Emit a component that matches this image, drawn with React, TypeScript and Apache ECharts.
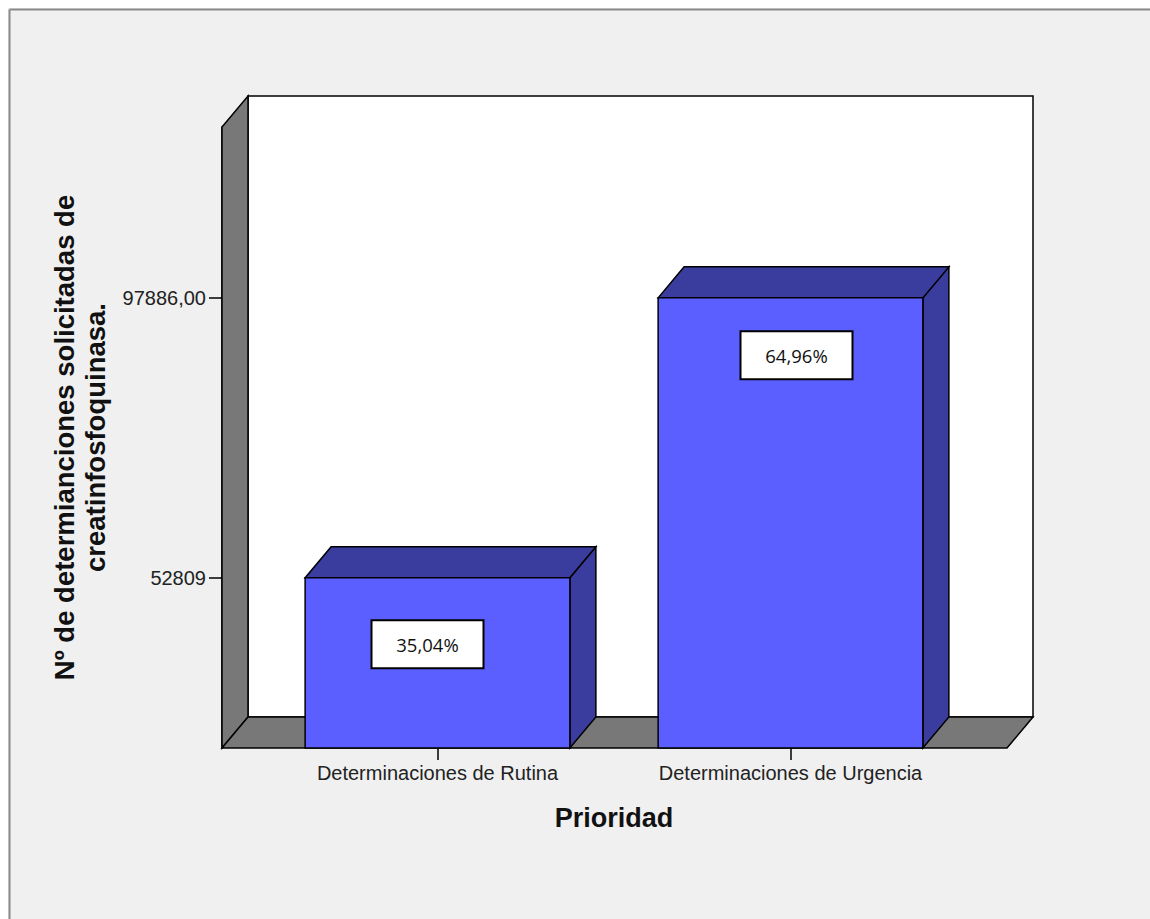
import React, { useEffect, useRef } from "react";
import * as echarts from "echarts";

const categories = ["Determinaciones de Rutina", "Determinaciones de Urgencia"];
const values = [52809, 97886];
const yTickValues = [52809, 97886];
const yTickLabels = ["52809", "97886,00"];
const yMin = 25400;
const yMax = 125400;

const xTitle = "Prioridad";
const yTitle = "Nº de determianciones solicitadas de\ncreatinfosfoquinasa.";

// layout constants (not data)
const DX = 26;
const DY = -31;
const EXT_LEFT = 39;
const EXT_RIGHT = 40;
const LABEL_SHIFT: number[][] = [[-10, 66.5], [6, 57.5]];

const total = values.reduce((a, b) => a + b, 0);
const pctLabel = (v: number) => ((v / total) * 100).toFixed(2).replace(".", ",") + "%";

export default function App() {
  const ref = useRef<HTMLDivElement>(null);
  useEffect(() => {
    if (!ref.current) return;
    const chart = echarts.init(ref.current, null, { renderer: "svg" });
    const option: any = {
      animation: false,
      backgroundColor: "#f0f0f0",
      graphic: [
        { type: "line", shape: { x1: 1.5, y1: 1.5, x2: 1142, y2: 1.5 }, style: { stroke: "#8a8a8a", lineWidth: 2 } },
        { type: "line", shape: { x1: 1.5, y1: 1.5, x2: 1.5, y2: 911 }, style: { stroke: "#8a8a8a", lineWidth: 2 } },
      ],
      grid: { left: 253, top: 119, width: 706, height: 621 },
      xAxis: {
        type: "category",
        data: categories,
        boundaryGap: true,
        axisLine: { show: false },
        axisTick: { show: true, alignWithLabel: true, length: 12, lineStyle: { color: "#000", width: 1.5 } },
        axisLabel: { fontSize: 20, color: "#222", fontFamily: "Liberation Sans, Arial", margin: 15 },
        name: xTitle,
        nameLocation: "middle",
        nameGap: 56,
        nameTextStyle: { fontSize: 27, fontWeight: "bold", color: "#111", fontFamily: "Liberation Sans, Arial" },
      },
      yAxis: {
        type: "value",
        min: yMin,
        max: yMax,
        offset: EXT_LEFT,
        splitLine: { show: false },
        axisLine: { show: true, lineStyle: { color: "#000", width: 1.5 } },
        axisTick: { show: true, length: 13, customValues: yTickValues, lineStyle: { color: "#000", width: 1.5 } },
        axisLabel: {
          customValues: yTickValues,
          fontSize: 20,
          color: "#222",
          fontFamily: "Liberation Sans, Arial",
          margin: 16,
          formatter: (v: number) => {
            const i = yTickValues.indexOf(v);
            return i >= 0 ? yTickLabels[i] : "";
          },
        },
        name: yTitle,
        nameLocation: "middle",
        nameRotate: 90,
        nameGap: 111,
        nameTextStyle: { fontSize: 27.5, fontWeight: "bold", color: "#111", lineHeight: 31, fontFamily: "Liberation Sans, Arial", align: "center" },
      },
      series: [
        {
          type: "custom",
          name: "walls",
          z: 1,
          silent: true,
          data: [[0]],
          renderItem: (params: any) => {
            const cs = params.coordSys;
            const L = cs.x - EXT_LEFT;
            const R = cs.x + cs.width + EXT_RIGHT;
            const T = cs.y;
            const B = cs.y + cs.height;
            const stroke = { stroke: "#000", lineWidth: 1.5 };
            return {
              type: "group",
              children: [
                { type: "rect", shape: { x: L + DX, y: T + DY, width: R - L, height: B - T }, style: { fill: "#fff", ...stroke } },
                { type: "polygon", shape: { points: [[L, T], [L + DX, T + DY], [L + DX, B + DY], [L, B]] }, style: { fill: "#787878", ...stroke } },
                { type: "polygon", shape: { points: [[L, B], [L + DX, B + DY], [R + DX, B + DY], [R, B]] }, style: { fill: "#787878", ...stroke } },
              ],
            };
          },
        },
        {
          type: "custom",
          name: "bars",
          z: 2,
          data: values.map((v, i) => [i, v]),
          renderItem: (params: any, api: any) => {
            const idx = api.value(0);
            const val = api.value(1);
            const topPt = api.coord([idx, val]);
            const basePt = api.coord([idx, yMin]);
            const bw = api.size([1, 0])[0] * 0.75;
            const x0 = topPt[0] - bw / 2;
            const x1 = topPt[0] + bw / 2;
            const top = topPt[1];
            const bottom = basePt[1];
            const stroke = { stroke: "#000", lineWidth: 1.5 };
            const shift = LABEL_SHIFT[params.dataIndex] || [0, 62];
            const lx = topPt[0] + shift[0];
            const ly = top + shift[1];
            return {
              type: "group",
              children: [
                { type: "polygon", shape: { points: [[x1, top], [x1 + DX, top + DY], [x1 + DX, bottom + DY], [x1, bottom]] }, style: { fill: "#3a3d9e", ...stroke } },
                { type: "polygon", shape: { points: [[x0, top], [x0 + DX, top + DY], [x1 + DX, top + DY], [x1, top]] }, style: { fill: "#3a3d9e", ...stroke } },
                { type: "rect", shape: { x: x0, y: top, width: bw, height: bottom - top }, style: { fill: "#5b5fff", ...stroke } },
                { type: "rect", shape: { x: lx - 56, y: ly - 24, width: 112, height: 48 }, style: { fill: "#fff", stroke: "#000", lineWidth: 2 } },
                {
                  type: "text",
                  x: lx,
                  y: ly,
                  style: { text: pctLabel(val), fontSize: 18.5, fontFamily: "Open Sans", fill: "#111", align: "center", verticalAlign: "middle" },
                },
              ],
            };
          },
        },
      ],
    };
    chart.setOption(option);
    return () => chart.dispose();
  }, []);
  return <div ref={ref} style={{ position: "fixed", left: 8, top: 8, width: 1142, height: 911 }} />;
}
